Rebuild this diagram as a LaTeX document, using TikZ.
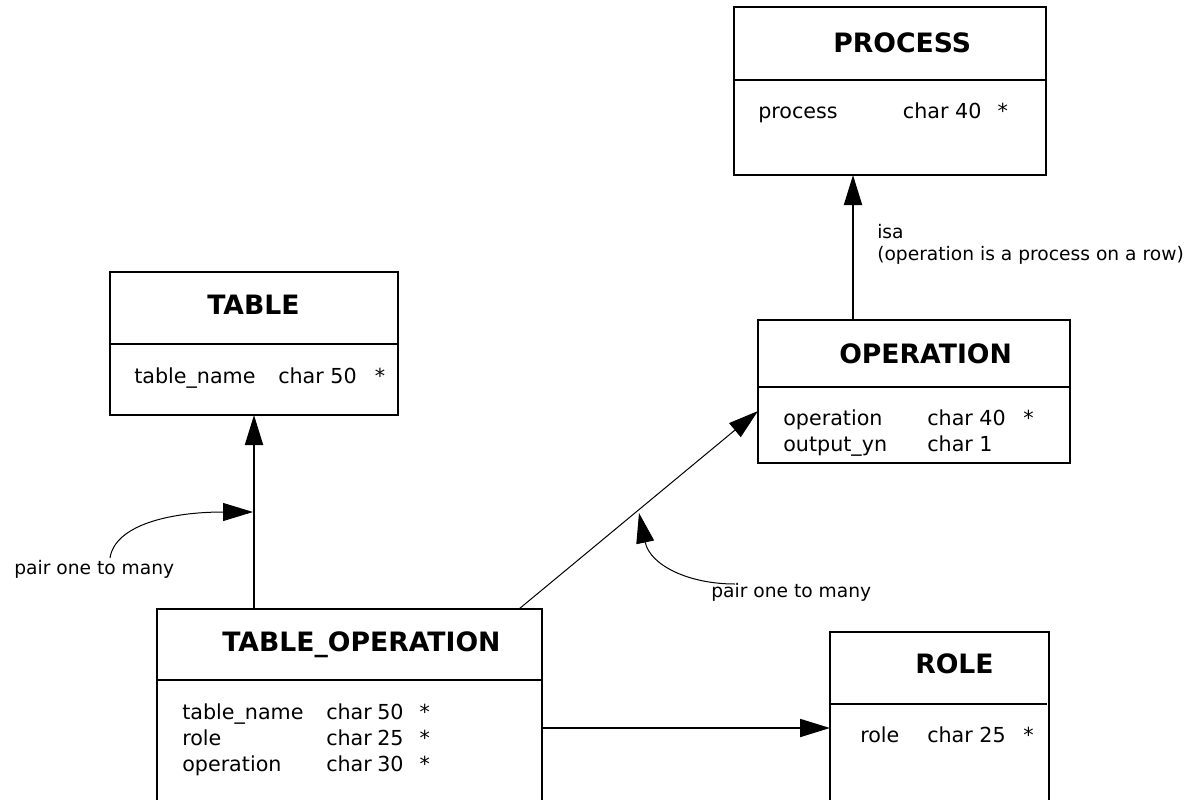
\documentclass[tikz,border=0pt]{standalone}
\usepackage{fontspec}
\setmainfont{DejaVu Sans}
\usetikzlibrary{arrows.meta}

\tikzset{
  entity/.style={draw, line width=1.5pt, anchor=north west, inner sep=0pt, outer sep=0pt},
  heading/.style={anchor=base west, inner sep=0pt, font=\bfseries\fontsize{20}{23}\selectfont},
  fields/.style={anchor=base west, inner sep=0pt, font=\fontsize{15.5}{19.5}\selectfont},
  remark/.style={anchor=base west, inner sep=0pt, font=\fontsize{14}{16.5}\selectfont},
  rel/.style={-{Triangle[length=22.5pt,width=13.5pt]}, line width=1.5pt},
  thinrel/.style={rel, line width=0.75pt},
}

\begin{document}
\begin{tikzpicture}[x=0.75pt,y=-0.75pt]
  \useasboundingbox (0,0) rectangle (1191,799);

  % entity boxes
  \node[entity, minimum width=234pt, minimum height=126pt] (process) at (734,7) {};
  \node[entity, minimum width=216pt, minimum height=107.25pt] (table) at (110,272) {};
  \node[entity, minimum width=234pt, minimum height=107.25pt] (operation) at (758,320) {};
  \node[entity, minimum width=288.75pt, minimum height=158pt] (tabop) at (157,609) {};
  \node[entity, minimum width=164.25pt, minimum height=142pt] (role) at (830,632) {};

  \draw[line width=1.5pt] (process.north west) ++(0,73) -- ++(312,0);
  \draw[line width=1.5pt] (table.north west) ++(0,72) -- ++(288,0);
  \draw[line width=1.5pt] (operation.north west) ++(0,67) -- ++(312,0);
  \draw[line width=1.5pt] (tabop.north west) ++(0,71) -- ++(385,0);
  \draw[line width=1.5pt] (role.north west) ++(0,72) -- ++(217,0);

  % titles
  \node[heading] (processtitle) at (833,53) {PROCESS};
  \node[heading] (tabletitle) at (207,314) {TABLE};
  \node[heading] (operationtitle) at (839,363) {OPERATION};
  \node[heading] (taboptitle) at (222,651) {TABLE\_OPERATION};
  \node[heading] (roletitle) at (915,673) {ROLE};

  % columns
  \node[fields] (processfields) at (758,118) {\begin{tabular}[t]{@{}p{96.5pt}p{59pt}l@{}}
    process & char 40 & * \end{tabular}};
  \node[fields] (tablefields) at (134,383) {\begin{tabular}[t]{@{}p{96pt}p{60.5pt}l@{}}
    table\_name & char 50 & * \end{tabular}};
  \node[fields] (operationfields) at (783,425) {\begin{tabular}[t]{@{}p{96pt}p{60pt}l@{}}
    operation & char 40 & * \\
    output\_yn & char 1 & \end{tabular}};
  \node[fields] (tabopfields) at (182,719) {\begin{tabular}[t]{@{}p{96pt}p{58pt}l@{}}
    table\_name & char 50 & * \\
    role & char 25 & * \\
    operation & char 30 & * \end{tabular}};
  \node[fields] (rolefields) at (860,742) {\begin{tabular}[t]{@{}p{38.25pt}p{60pt}l@{}}
    role & char 25 & * \end{tabular}};

  % labels
  \node[remark] (isa) at (877,238) {isa};
  \node[remark] (isanote) at (877,260) {(operation is a process on a row)};
  \node[remark] (pairtable) at (14,574) {pair one to many};
  \node[remark] (pairop) at (711,597) {pair one to many};

  % relations
  \coordinate (isafoot) at (853,0);
  \draw[rel] (isafoot |- operation.north) -- (isafoot |- process.south);
  \draw[rel] (tabop.north -| table.south) -- (table.south);

  \coordinate (optail) at (519,0);
  \coordinate (ophead) at (0,411);
  \draw[thinrel] (optail |- tabop.north) -- (ophead -| operation.west);

  \coordinate (rolelink) at (0,728);
  \draw[rel] (rolelink -| tabop.east) -- (rolelink -| role.west);

  % pointers from the notes
  \coordinate (pairtablefrom) at (110,558);
  \coordinate (pairtableto) at (253,512);
  \draw[thinrel] (pairtablefrom) .. controls (115,525) and (170,512) .. (pairtableto);

  \coordinate (pairopfrom) at (735,584);
  \coordinate (pairopto) at (639,513);
  \draw[thinrel] (pairopfrom) .. controls (688,584) and (650,565) .. (pairopto);
\end{tikzpicture}
\end{document}
